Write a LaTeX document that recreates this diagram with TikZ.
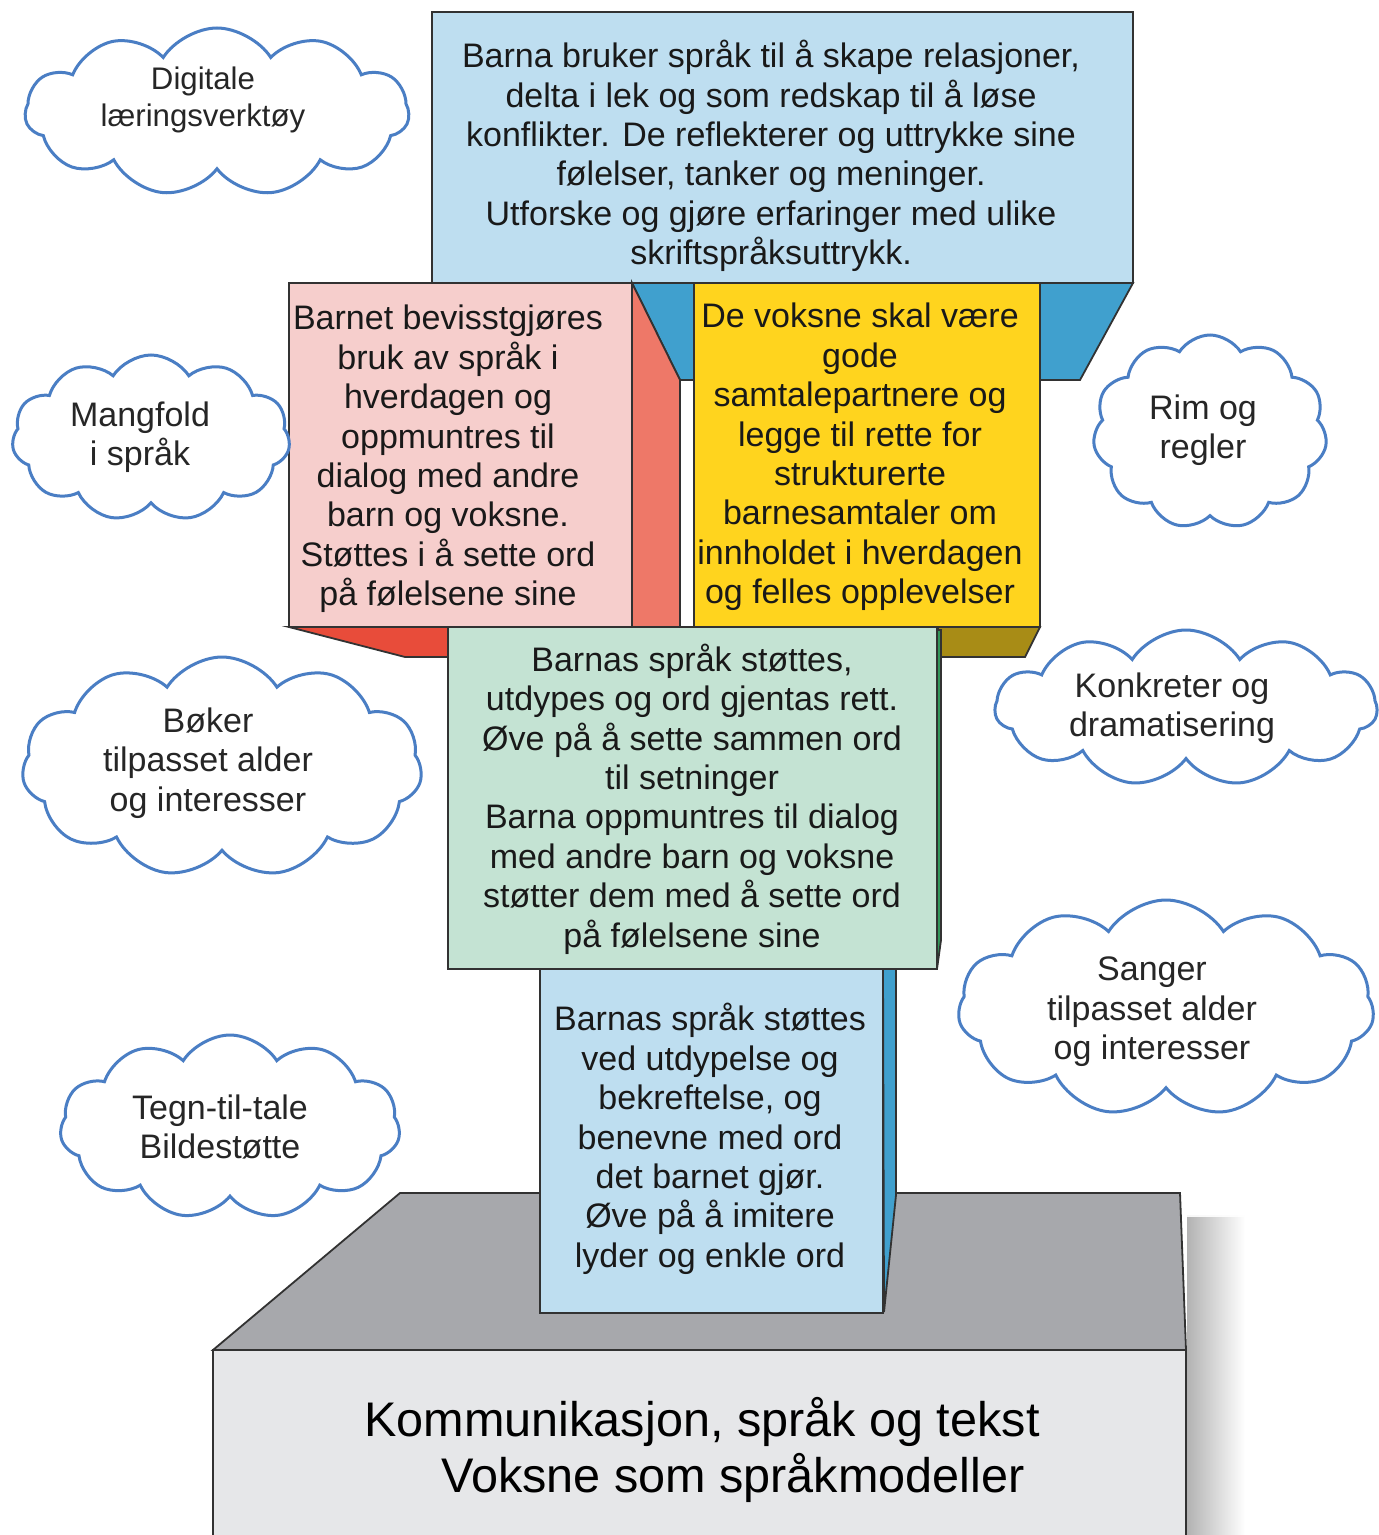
\documentclass[tikz,border=0pt]{standalone}
\usepackage{fontspec}
\setmainfont{Liberation Sans}
\usetikzlibrary{shapes.symbols}
\definecolor{lblue}{RGB}{190,222,240}
\definecolor{dblue}{RGB}{64,160,206}
\definecolor{pinkf}{RGB}{246,206,204}
\definecolor{salmon}{RGB}{238,120,104}
\definecolor{redf}{RGB}{232,76,58}
\definecolor{yellowf}{RGB}{255,212,30}
\definecolor{olive}{RGB}{168,140,22}
\definecolor{greenf}{RGB}{196,227,211}
\definecolor{dgreen}{RGB}{50,150,90}
\definecolor{graytop}{RGB}{167,168,172}
\definecolor{basef}{RGB}{230,231,233}
\definecolor{cloudc}{RGB}{74,126,196}
\definecolor{outl}{RGB}{50,50,50}
\newcommand\boxfont{\fontsize{17}{19.7}\selectfont}
\newcommand\cloudfont{\fontsize{17}{19.7}\selectfont}
\begin{document}
\begin{tikzpicture}[x=0.5pt,y=-0.5pt,
  edge/.style={draw=outl, line width=0.9pt, line join=miter},
  txt/.style={align=center, inner sep=0pt, font=\boxfont, text=black!90},
  cloudst/.style={cloud, cloud puffs=11, cloud puff arc=115, cloud ignores aspect, draw=cloudc, line width=1.5pt, fill=white, inner sep=0pt},
  ctxt/.style={align=center, inner sep=0pt, font=\cloudfont, text=black!85}]
\useasboundingbox (0,0) rectangle (1378,1535);
\fill[white] (0,0) rectangle (1378,1535);

% ---- base ----
\shade[left color=black!30, right color=white] (1187,1215) rectangle (1245,1535);
\shade[top color=white, bottom color=white, opacity=0.9] (1187,1190) rectangle (1246,1216);
\fill[basef, edge] (213,1350) -- (1186,1350) -- (1186,1545) -- (213,1545) -- cycle;
\fill[graytop, edge] (400,1193) -- (1180,1193) -- (1186,1350) -- (213,1350) -- cycle;
\node[font=\fontsize{24.3}{28}\selectfont, inner sep=0pt] (base1) at (702,1422) {Kommunikasjon, språk og tekst};
\node[font=\fontsize{24.3}{28}\selectfont, inner sep=0pt] (base2) at (733,1478) {Voksne som språkmodeller};

% ---- bottom blue box ----
\fill[dblue, edge] (883,969) -- (896,969) -- (896,1195) -- (884,1312) -- cycle;
\fill[lblue, edge] (540,969) rectangle (883,1313);
\node[txt] (t5) at (710,1139) {Barnas språk støttes\\ved utdypelse og\\bekreftelse, og\\benevne med ord\\det barnet gjør.\\Øve på å imitere\\lyder og enkle ord};

% ---- top box and its lower face ----
\fill[dblue, edge] (632,283) -- (1133,283) -- (1080,380) -- (680,380) -- cycle;
\fill[lblue, edge] (432,12) rectangle (1133,283);
\node[txt] (t1) at (771,156) {Barna bruker språk til å skape relasjoner,\\delta i lek og som redskap til å løse\\konflikter. De reflekterer og uttrykke sine\\følelser, tanker og meninger.\\Utforske og gjøre erfaringer med ulike\\skriftspråksuttrykk.};

% ---- pink box ----
\fill[salmon, edge] (632,283) -- (680,380) -- (680,627) -- (632,627) -- cycle;
\fill[redf, edge] (289,627) -- (448,627) -- (448,657) -- (405,657) -- cycle;
\fill[pinkf, edge] (289,283) rectangle (632,627);
\node[txt] (t2) at (448,459) {Barnet bevisstgjøres\\bruk av språk i\\hverdagen og\\oppmuntres til\\dialog med andre\\barn og voksne.\\Støttes i å sette ord\\på følelsene sine};

% ---- yellow box ----
\fill[olive, edge] (938,627) -- (1040,627) -- (1025,657) -- (938,657) -- cycle;
\fill[yellowf, edge] (694,283) rectangle (1040,627);
\node[txt] (t3) at (860,457) {De voksne skal være\\gode\\samtalepartnere og\\legge til rette for\\strukturerte\\barnesamtaler om\\innholdet i hverdagen\\og felles opplevelser};

% ---- green box ----
\fill[dgreen, edge] (937,630) -- (941,630) -- (941,940) -- (937,969) -- cycle;
\fill[greenf, edge] (448,627) rectangle (937,969);
\node[txt] (t4) at (692,799) {Barnas språk støttes,\\utdypes og ord gjentas rett.\\Øve på å sette sammen ord\\til setninger\\Barna oppmuntres til dialog\\med andre barn og voksne\\støtter dem med å sette ord\\på følelsene sine};

% ---- clouds ----
\node[cloudst, minimum width=192pt, minimum height=84pt] (c1) at (217,112) {};
\node[ctxt, font=\fontsize{15.6}{18.5}\selectfont] (l1) at (203,100) {Digitale\\læringsverktøy};
\node[cloudst, minimum width=139pt, minimum height=83pt] (c2) at (151,438) {};
\node[ctxt] (l2) at (140,437) {Mangfold\\i språk};
\node[cloudst, minimum width=200pt, minimum height=110pt] (c3) at (222,767) {};
\node[ctxt] (l3) at (208,763) {Bøker\\tilpasset alder\\og interesser};
\node[cloudst, minimum width=170pt, minimum height=92pt] (c4) at (230,1127) {};
\node[ctxt] (l4) at (220,1127) {Tegn-til-tale\\Bildestøtte};
\node[cloudst, minimum width=117pt, minimum height=97pt] (c5) at (1210,432) {};
\node[ctxt] (l5) at (1203,430) {Rim og\\regler};
\node[cloudst, minimum width=191pt, minimum height=78pt] (c6) at (1186,708) {};
\node[ctxt] (l6) at (1172,708) {Konkreter og\\dramatisering};
\node[cloudst, minimum width=208pt, minimum height=108pt] (c7) at (1166,1008) {};
\node[ctxt] (l7) at (1152,1012) {Sanger\\tilpasset alder\\og interesser};
\end{tikzpicture}
\end{document}
